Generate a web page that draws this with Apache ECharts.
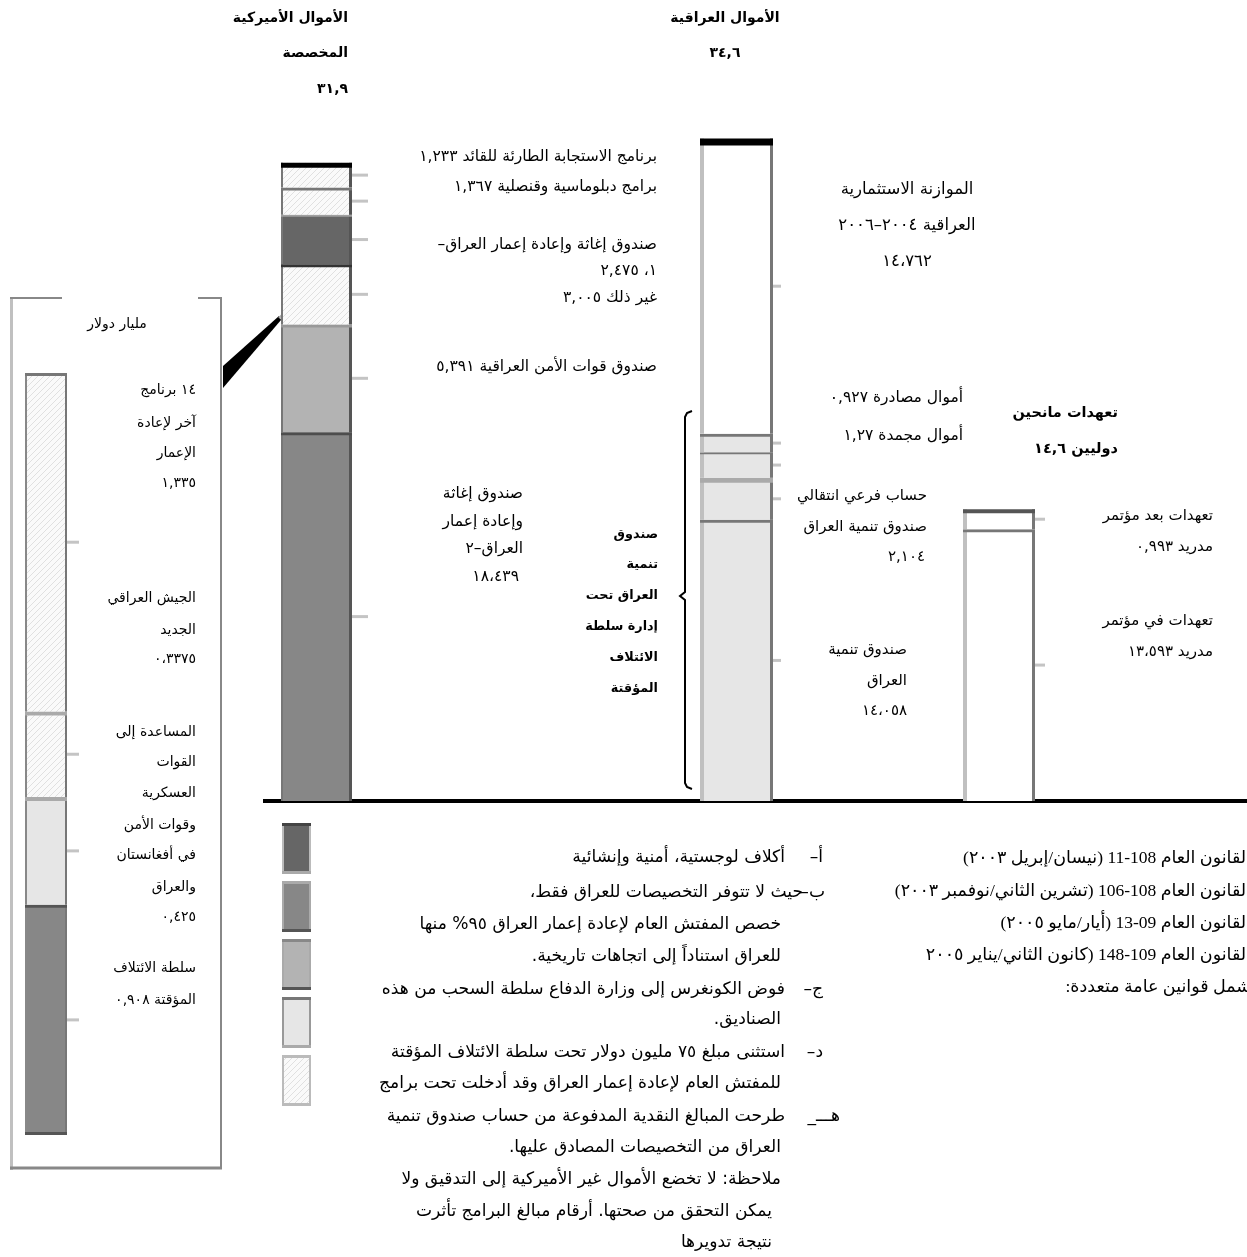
<!DOCTYPE html>
<html><head><meta charset="utf-8">
<script src="https://cdn.jsdelivr.net/npm/echarts@6/dist/echarts.min.js"></script>
<style>html,body{margin:0;padding:0;background:#fff;overflow:hidden}#c{width:1247px;height:1257px}</style>
</head><body><div id="c" dir="rtl"></div>
<script>
// ---------- DATA (bottom to top) ----------
const usLabels = ['صندوق إغاثة وإعادة إعمار العراق–٢','صندوق قوات الأمن العراقية','غير ذلك','صندوق إغاثة وإعادة إعمار العراق–١','برامج دبلوماسية وقنصلية','برنامج الاستجابة الطارئة للقائد'];
const usValues = [18.439, 5.391, 3.005, 2.475, 1.367, 1.233];
const iraqLabels = ['صندوق تنمية العراق','حساب فرعي انتقالي صندوق تنمية العراق','أموال مجمدة','أموال مصادرة','الموازنة الاستثمارية العراقية ٢٠٠٤–٢٠٠٦'];
const iraqValues = [14.058, 2.104, 1.27, 0.927, 14.762];
const donorLabels = ['تعهدات في مؤتمر مدريد','تعهدات بعد مؤتمر مدريد'];
const donorValues = [13.593, 0.993];
const insetLabels = ['سلطة الائتلاف المؤقتة','المساعدة إلى القوات العسكرية وقوات الأمن في أفغانستان والعراق','الجيش العراقي الجديد','١٤ برنامج آخر لإعادة الإعمار'];
const insetValues = [0.908, 0.425, 0.3375, 1.335];

// ---------- STYLES ----------
const pc = document.createElement('canvas'); pc.width = 6; pc.height = 6;
const g = pc.getContext('2d');
g.fillStyle = '#fafafa'; g.fillRect(0,0,6,6);
g.strokeStyle = '#e0e0e0'; g.lineWidth = 1;
g.beginPath(); g.moveTo(0,6); g.lineTo(6,0); g.moveTo(-3,3); g.lineTo(3,-3); g.moveTo(3,9); g.lineTo(9,3); g.stroke();
const hatch = {image: pc, repeat: 'repeat'};

const usStyles = [
  {fill:'#878787', top:'#4d4d4d', topW:3},
  {fill:'#b3b3b3', top:'#999999', topW:3},
  {fill:hatch, top:'#333333', topW:3},
  {fill:'#666666', top:'#a0a0a0', topW:2},
  {fill:hatch, top:'#777777', topW:3},
  {fill:hatch, top:'#000000', topW:5}
];
const iraqStyles = [
  {fill:'#e6e6e6', top:'#777777', topW:3},
  {fill:'#e6e6e6', top:'#aaaaaa', topW:5},
  {fill:'#e6e6e6', top:'#777777', topW:2},
  {fill:'#e6e6e6', top:'#777777', topW:3},
  {fill:'#ffffff', top:'#000000', topW:7}
];
const donorStyles = [
  {fill:'#ffffff', top:'#777777', topW:3},
  {fill:'#ffffff', top:'#555555', topW:4}
];
const insetStyles = [
  {fill:'#878787', top:'#555555', topW:3},
  {fill:'#e6e6e6', top:'#aaaaaa', topW:4},
  {fill:hatch, top:'#aaaaaa', topW:4},
  {fill:hatch, top:'#777777', topW:3}
];
const frames = {
  us:{left:'#777777', lw:2, right:'#555555', rw:3, tick:16},
  iraq:{left:'#c0c0c0', lw:4, right:'#777777', rw:3, tick:8},
  donor:{left:'#c0c0c0', lw:4, right:'#777777', rw:3, tick:10},
  inset:{left:'#888888', lw:2, right:'#777777', rw:2, tick:12, bottom:'#555555'}
};

function stackData(values){ let s = 0; return values.map((v,i)=>{ const d=[0,s,s+v,i]; s+=v; return d; }); }

function makeRender(styles, fr){
  return function(params, api){
    const i = api.value(3);
    const a = api.coord([0, api.value(1)]);
    const b = api.coord([0, api.value(2)]);
    const w = api.size([1,0])[0];
    const L = a[0]-w/2, R = a[0]+w/2;
    const st = styles[i];
    const ch = [];
    ch.push({type:'rect', shape:{x:L, y:b[1], width:w, height:a[1]-b[1]}, style:{fill:st.fill}});
    ch.push({type:'line', shape:{x1:L+fr.lw/2, y1:b[1], x2:L+fr.lw/2, y2:a[1]}, style:{stroke:fr.left, lineWidth:fr.lw}});
    ch.push({type:'line', shape:{x1:R-fr.rw/2, y1:b[1], x2:R-fr.rw/2, y2:a[1]}, style:{stroke:fr.right, lineWidth:fr.rw}});
    ch.push({type:'line', shape:{x1:L, y1:b[1]+st.topW/2, x2:R, y2:b[1]+st.topW/2}, style:{stroke:st.top, lineWidth:st.topW}});
    if (i === 0 && fr.bottom) ch.push({type:'line', shape:{x1:L, y1:a[1]-1.5, x2:R, y2:a[1]-1.5}, style:{stroke:fr.bottom, lineWidth:3}});
    const m = (a[1]+b[1])/2;
    ch.push({type:'line', shape:{x1:R, y1:m, x2:R+fr.tick, y2:m}, style:{stroke:'#c4c4c4', lineWidth:3}});
    return {type:'group', children:ch};
  };
}

// ---------- TEXT LAYOUT ----------
const F = {
  h:'bold 14px "DejaVu Sans"',
  hd:'bold 14.5px "DejaVu Sans"',
  b:'bold 12.8px "DejaVu Sans"',
  u:'15.5px "DejaVu Sans"',
  q:'15px "DejaVu Sans"',
  qb:'16.5px "DejaVu Sans"',
  i:'14px "DejaVu Sans"',
  f:'17.1px "DejaVu Sans"',
  r:'17.5px "Liberation Serif","DejaVu Sans"'
};
const texts = [
  ['الأموال الأميركية',348,18,'right','h'],['المخصصة',348,53,'right','h'],['٣١,٩',348,89,'right','h'],
  ['الأموال العراقية',725,18,'center','h'],['٣٤,٦',725,53,'center','h'],
  ['تعهدات مانحين',1118,413,'right','hd'],['دوليين ١٤,٦',1118,449,'right','hd'],
  ['برنامج الاستجابة الطارئة للقائد ١,٢٣٣',657,157,'right','u'],
  ['برامج دبلوماسية وقنصلية ١,٣٦٧',657,187,'right','u'],
  ['صندوق إغاثة وإعادة إعمار العراق–',657,245,'right','u'],
  ['١، ٢,٤٧٥',657,271,'right','u'],
  ['غير ذلك ٣,٠٠٥',657,298,'right','u'],
  ['صندوق قوات الأمن العراقية ٥,٣٩١',657,367,'right','u'],
  ['صندوق إغاثة',523,494,'right','u'],['وإعادة إعمار',523,522,'right','u'],['العراق–٢',523,549,'right','u'],['١٨،٤٣٩',519,577,'right','u'],
  ['صندوق',658,535,'right','b'],['تنمية',658,565,'right','b'],['العراق تحت',658,596,'right','b'],
  ['إدارة سلطة',658,627,'right','b'],['الائتلاف',658,658,'right','b'],['المؤقتة',658,689,'right','b'],
  ['الموازنة الاستثمارية',907,190,'center','qb'],['العراقية ٢٠٠٤–٢٠٠٦',907,226,'center','qb'],['١٤،٧٦٢',907,262,'center','qb'],
  ['أموال مصادرة ٠,٩٢٧',963,398,'right','u'],['أموال مجمدة ١,٢٧',963,436,'right','u'],
  ['حساب فرعي انتقالي',927,496,'right','q'],['صندوق تنمية العراق',927,527,'right','q'],['٢,١٠٤',925,557,'right','q'],
  ['صندوق تنمية',907,650,'right','q'],['العراق',907,681,'right','q'],['١٤،٠٥٨',907,711,'right','q'],
  ['تعهدات بعد مؤتمر',1213,516,'right','q'],['مدريد ٠,٩٩٣',1213,547,'right','q'],
  ['تعهدات في مؤتمر',1213,621,'right','q'],['مدريد ١٣،٥٩٣',1213,652,'right','q'],
  ['مليار دولار',117,324,'center','i'],
  ['١٤ برنامج',196,390,'right','i'],['آخر لإعادة',196,423,'right','i'],['الإعمار',196,453,'right','i'],['١,٣٣٥',196,483,'right','i'],
  ['الجيش العراقي',196,598,'right','i'],['الجديد',196,630,'right','i'],['٠،٣٣٧٥',196,659,'right','i'],
  ['المساعدة إلى',196,732,'right','i'],['القوات',196,762,'right','i'],['العسكرية',196,793,'right','i'],
  ['وقوات الأمن',196,825,'right','i'],['في أفغانستان',196,855,'right','i'],['والعراق',196,887,'right','i'],['٠,٤٢٥',196,917,'right','i'],
  ['سلطة الائتلاف',196,968,'right','i'],['المؤقتة ٠,٩٠٨',196,1000,'right','i'],
  ['أ–',823,858,'right','f'],['أكلاف لوجستية، أمنية وإنشائية',785,858,'right','f'],
  ['ب–',825,893,'right','f'],['حيث لا تتوفر التخصيصات للعراق فقط،',803,893,'right','f'],
  ['خصص المفتش العام لإعادة إعمار العراق ٩٥% منها',781,925,'right','f'],
  ['للعراق استناداً إلى اتجاهات تاريخية.',781,957,'right','f'],
  ['ج–',823,990,'right','f'],['فوض الكونغرس إلى وزارة الدفاع سلطة السحب من هذه',785,990,'right','f'],
  ['الصناديق.',781,1020,'right','f'],
  ['د–',823,1053,'right','f'],['استثنى مبلغ ٧٥ مليون دولار تحت سلطة الائتلاف المؤقتة',785,1053,'right','f'],
  ['للمفتش العام لإعادة إعمار العراق وقد أدخلت تحت برامج',781,1084,'right','f'],
  ['هـــ_',840,1117,'right','f'],['طرحت المبالغ النقدية المدفوعة من حساب صندوق تنمية',785,1117,'right','f'],
  ['العراق من التخصيصات المصادق عليها.',781,1148,'right','f'],
  ['ملاحظة: لا تخضع الأموال غير الأميركية إلى التدقيق ولا',781,1180,'right','f'],
  ['يمكن التحقق من صحتها. أرقام مبالغ البرامج تأثرت',772,1212,'right','f'],
  ['نتيجة تدويرها',772,1243,'right','f'],
  ['القانون العام 108-11 (نيسان/إبريل ٢٠٠٣)',1251,858,'right','r'],
  ['القانون العام 108-106 (تشرين الثاني/نوفمبر ٢٠٠٣)',1251,891,'right','r'],
  ['القانون العام 09-13 (أيار/مايو ٢٠٠٥)',1251,923,'right','r'],
  ['القانون العام 109-148 (كانون الثاني/يناير ٢٠٠٥',1251,955,'right','r'],
  ['شمل قوانين عامة متعددة:',1251,987,'right','r']
];

const graphics = [];
texts.forEach(t => graphics.push({type:'text', x:t[1], y:t[2], silent:true,
  style:{text:t[0], font:F[t[4]], fill:'#000', align:t[3], verticalAlign:'middle', textAlign:t[3], textVerticalAlign:'middle'}}));

function ln(x1,y1,x2,y2,c,w){ graphics.push({type:'line', silent:true, shape:{x1,y1,x2,y2}, style:{stroke:c, lineWidth:w}}); }
// baseline
ln(263,801,1247,801,'#000',4);
// inset frame
ln(11.5,297,11.5,1170,'#c0c0c0',3);
ln(221,297,221,1169,'#888',2);
ln(10,1168,222,1168,'#888',3);
ln(10,298,62,298,'#888',2);
ln(198,298,222,298,'#888',2);
// connector wedge
graphics.push({type:'polygon', silent:true, shape:{points:[[223,366],[223,388],[281,320],[279,316]]}, style:{fill:'#000'}});
ln(279,318,284,313,'#aaa',2);
// bracket
graphics.push({type:'polyline', silent:true, shape:{points:[[692,411],[687,413],[685,417],[685,592],[680,596],[685,600],[685,783],[687,787],[692,789]]}, style:{stroke:'#000', lineWidth:2, fill:null}});
// legend swatches
const sw = [
  {y:823, fill:'#666666', t:'#444', b:'#aaa', s:'#bbb'},
  {y:881, fill:'#878787', t:'#aaa', b:'#555', s:'#aaa'},
  {y:939, fill:'#b3b3b3', t:'#888', b:'#555', s:'#aaa'},
  {y:997, fill:'#e6e6e6', t:'#777', b:'#aaa', s:'#999'},
  {y:1055, fill:hatch, t:'#bbb', b:'#bbb', s:'#bbb'}
];
sw.forEach(s => {
  graphics.push({type:'rect', silent:true, shape:{x:282, y:s.y, width:29, height:51}, style:{fill:s.fill}});
  ln(283,s.y,283,s.y+51,s.s,2); ln(310,s.y,310,s.y+51,s.s,2);
  ln(282,s.y+1.5,311,s.y+1.5,s.t,3); ln(282,s.y+49.5,311,s.y+49.5,s.b,3);
});

// ---------- CHART ----------
const chart = echarts.init(document.getElementById('c'), null, {renderer:'canvas'});
const grids = [
  {left:25, width:42, top:349, height:786},
  {left:281, width:71, top:101, height:700},
  {left:700, width:73, top:101, height:700},
  {left:963, width:72, top:101, height:700}
];
const maxes = [3.1, 35, 35, 35];
const cols = [
  {vals:insetValues, names:insetLabels, st:insetStyles, fr:frames.inset},
  {vals:usValues, names:usLabels, st:usStyles, fr:frames.us},
  {vals:iraqValues, names:iraqLabels, st:iraqStyles, fr:frames.iraq},
  {vals:donorValues, names:donorLabels, st:donorStyles, fr:frames.donor}
];
chart.setOption({
  animation:false,
  backgroundColor:'#fff',
  grid: grids,
  xAxis: grids.map((gg,i)=>({type:'category', gridIndex:i, data:[''], show:false})),
  yAxis: grids.map((gg,i)=>({type:'value', gridIndex:i, min:0, max:maxes[i], show:false})),
  series: cols.map((c,i)=>({
    type:'custom', xAxisIndex:i, yAxisIndex:i, clip:false,
    encode:{x:0, y:[1,2]},
    data: stackData(c.vals).map((d,k)=>({name:c.names[k], value:d})),
    renderItem: makeRender(c.st, c.fr)
  })),
  graphic: graphics
});
</script></body></html>
